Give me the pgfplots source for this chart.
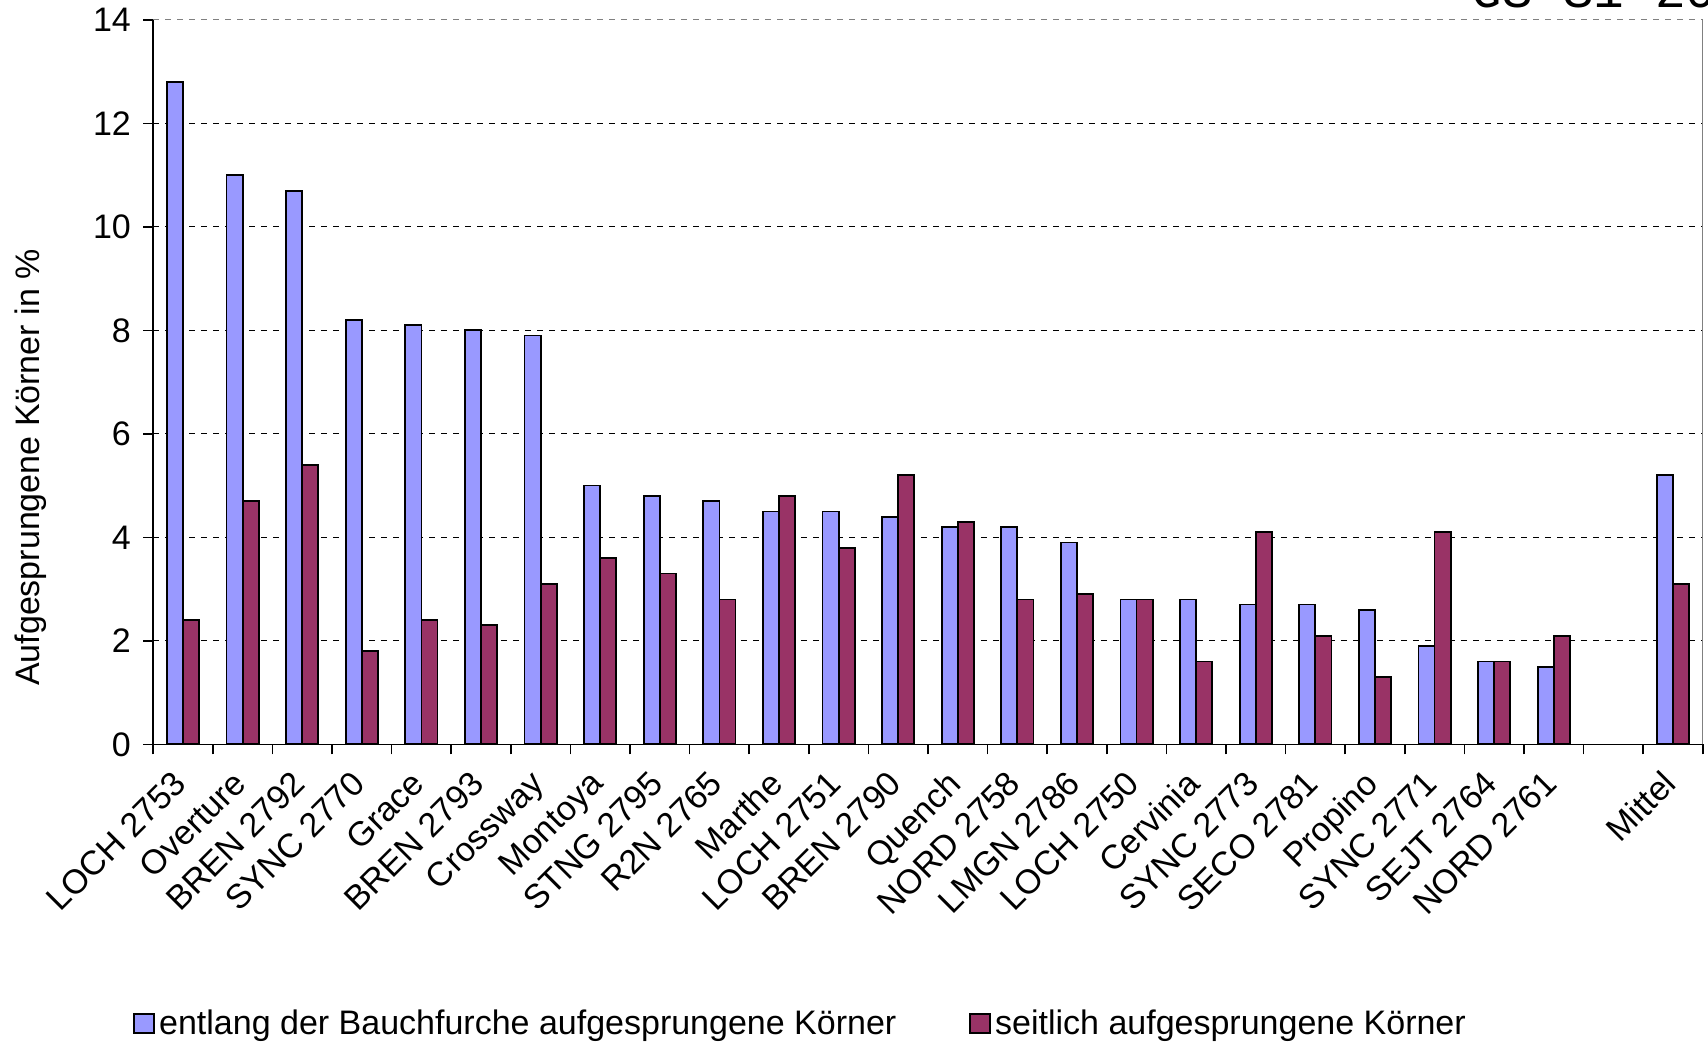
\documentclass[border=0pt]{standalone}
\usepackage{fontspec}
\setmainfont{Liberation Sans}
\newfontfamily\monofont{Liberation Mono}
\usepackage{pgfplots}
\usepackage{pgfplotstable}
\pgfplotsset{compat=1.18}
\definecolor{barblue}{HTML}{9999FF}
\definecolor{barred}{HTML}{993366}
\newcommand{\chartfont}{\fontsize{17bp}{20bp}\selectfont}

% x = Sortenplatz (24 = leer), blue = entlang Bauchfurche, red = seitlich
\pgfplotstableread{
x  blue red
0  12.8 2.4
1  11.0 4.7
2  10.7 5.4
3  8.2  1.8
4  8.1  2.4
5  8.0  2.3
6  7.9  3.1
7  5.0  3.6
8  4.8  3.3
9  4.7  2.8
10 4.5  4.8
11 4.5  3.8
12 4.4  5.2
13 4.2  4.3
14 4.2  2.8
15 3.9  2.9
16 2.8  2.8
17 2.8  1.6
18 2.7  4.1
19 2.7  2.1
20 2.6  1.3
21 1.9  4.1
22 1.6  1.6
23 1.5  2.1
25 5.2  3.1
}\koerner

\begin{document}
\begin{tikzpicture}
\useasboundingbox (-76.65bp,-149.35bp) rectangle (777.35bp,372.15bp);
\begin{axis}[
  at={(0,0)}, anchor=south west,
  scale only axis, width=774.7bp, height=362.2bp,
  clip=false,
  xmin=-0.5, xmax=25.5, ymin=0, ymax=14,
  axis lines=left, axis line style={-, line width=0.8bp},
  ybar=0pt, bar width=0.27,
  xtick={0,...,25},
  xticklabels={LOCH 2753,Overture,BREN 2792,SYNC 2770,Grace,BREN 2793,Crossway,Montoya,STNG 2795,R2N 2765,Marthe,LOCH 2751,BREN 2790,Quench,NORD 2758,LMGN 2786,LOCH 2750,Cervinia,SYNC 2773,SECO 2781,Propino,SYNC 2771,SEJT 2764,NORD 2761,{},Mittel},
  minor xtick={-0.5,0.5,...,25.5},
  major x tick style={draw=none},
  tick align=outside, major tick length=5bp, minor tick length=5bp,
  tick style={black, line width=0.8bp},
  ytick={0,2,...,12},
  extra y ticks={14},
  extra y tick style={grid=major, major grid style={gray, dash pattern=on 3bp off 3bp, line width=0.6bp}},
  ymajorgrids, major grid style={black, dash pattern=on 3bp off 3bp, line width=0.5bp},
  /pgf/number format/assume math mode=true,
  ticklabel style={font=\chartfont},
  yticklabel style={inner sep=0pt, xshift=-6bp},
  xticklabel style={xshift=-6bp, yshift=-7bp, rotate=45, anchor=north east, inner sep=0pt, font=\chartfont},
  ylabel={Aufgesprungene Körner in \%},
  ylabel style={at={(axis description cs:-0.0793,0.382)}, anchor=center, font=\chartfont},
  legend columns=2,
  legend style={at={(axis description cs:-0.0131,-0.3855)}, anchor=west, draw=none, fill=none,
    inner sep=0pt, font=\chartfont, cells={anchor=west},
    nodes={inner xsep=2bp, inner ysep=0pt},
    /tikz/every even column/.append style={column sep=34.5bp}},
  legend image code/.code={\draw[#1, line width=0.9bp] (0bp,-4.75bp) rectangle (10bp,4.75bp);},
]
\addplot[fill=barblue, draw=black, line width=0.9bp] table[x=x, y=blue] {\koerner};
\addplot[fill=barred, draw=black, line width=0.9bp] table[x=x, y=red] {\koerner};
\legend{entlang der Bauchfurche aufgesprungene Körner, seitlich aufgesprungene Körner}
\end{axis}
\draw[gray, line width=0.6bp] (774.7bp,0bp) -- (774.7bp,362.2bp);
\node[anchor=base west, inner sep=0pt, font=\monofont\fontsize{25.5bp}{27bp}\selectfont] at (658.9bp,368.6bp) {GS S1 2006};
\end{tikzpicture}
\end{document}
